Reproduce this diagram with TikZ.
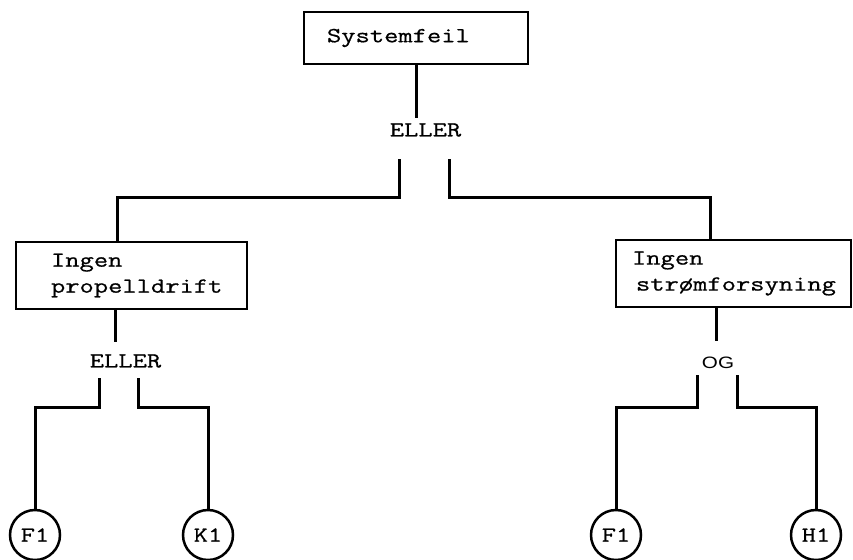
\documentclass[tikz,border=0pt]{standalone}
\usepackage{fontspec}
\newfontfamily\cour{Latin Modern Mono}[FakeStretch=1.29,FakeBold=0.7]
\newfontfamily\ogfont{Liberation Sans}[FakeStretch=1.25]
\begin{document}
\begin{tikzpicture}[x=1pt,y=-1pt,
  box/.style={draw, line width=2.8pt, rectangle, inner sep=0pt, align=left, font=\fontsize{21.5}{26}\selectfont\cour},
  gate/.style={inner sep=0pt, font=\fontsize{21.5}{26}\selectfont\cour},
  oggate/.style={inner sep=0pt, font=\fontsize{16.5}{18}\selectfont\ogfont},
  leaf/.style={draw, circle, line width=2.5pt, minimum size=50pt, inner sep=0pt, font=\fontsize{21.5}{26}\selectfont\cour},
  conn/.style={line width=3pt}]
\useasboundingbox (0,0) rectangle (853,559);

% boxes
\node[box, minimum width=224pt, minimum height=52pt, text width=224pt] (sys) at (416,38) {\hspace*{23pt}Systemfeil};
\node[box, minimum width=231pt, minimum height=67pt, text width=231pt] (b1) at (131.5,275.5) {\hspace*{35pt}Ingen\\\hspace*{35pt}propelldrift};
\node[box, minimum width=235pt, minimum height=67pt, text width=235pt] (b2) at (733.5,273.5) {\hspace*{16pt}Ingen\\\hspace*{20pt}strømforsyning};

% gates
\node[gate] (g1) at (425.5,130) {ELLER};
\node[gate] (g2) at (125.5,361) {ELLER};
\node[oggate] (g3) at (718,362.5) {OG};

% leaves
\node[leaf] (c1) at (35,535) {F1};
\node[leaf] (c2) at (208,535) {K1};
\node[leaf] (c3) at (616,535) {F1};
\node[leaf] (c4) at (816,535) {H1};

% free ends
\coordinate (t1) at (416,118);
\coordinate (f1l) at (399,159);
\coordinate (f1r) at (449,159);
\coordinate (t2) at (115,342);
\coordinate (f2l) at (99,378);
\coordinate (f2r) at (138,378);
\coordinate (t3) at (716,341);
\coordinate (f3l) at (697,375);
\coordinate (f3r) at (737,375);

% connectors
\draw[conn] (sys.south) -- (t1);
\draw[conn] (f1l) -- ++(0,38) -| ([xshift=-14.5pt]b1.north);
\draw[conn] (f1r) -- ++(0,38) -| ([xshift=-23.5pt]b2.north);
\draw[conn] ([xshift=-16.5pt]b1.south) -- (t2);
\draw[conn] (f2l) -- ++(0,29) -| (c1.north);
\draw[conn] (f2r) -- ++(0,29) -| (c2.north);
\draw[conn] ([xshift=-17.5pt]b2.south) -- (t3);
\draw[conn] (f3l) -- ++(0,32) -| (c3.north);
\draw[conn] (f3r) -- ++(0,32) -| (c4.north);
\end{tikzpicture}
\end{document}
